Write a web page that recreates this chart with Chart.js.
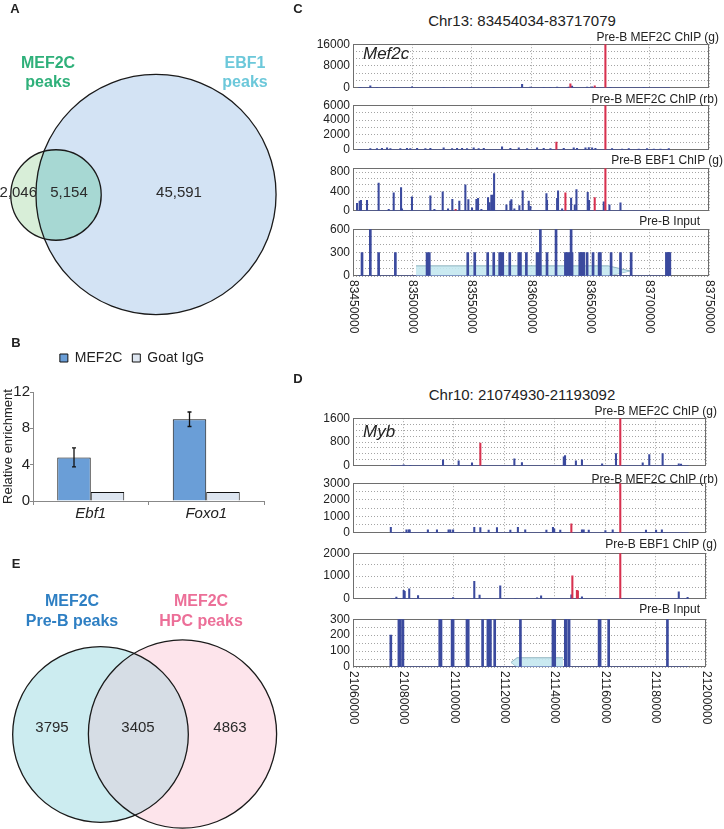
<!DOCTYPE html>
<html>
<head>
<meta charset="utf-8">
<script src="https://cdn.jsdelivr.net/npm/chart.js@4.4.1/dist/chart.umd.min.js"></script>
<style>
body { margin: 0; background: #fff; }
#page { position: relative; width: 724px; height: 829px; overflow: hidden; font-family: 'Liberation Sans', Arial, sans-serif; color: #222; }
canvas { position: absolute; }
.t { position: absolute; white-space: nowrap; line-height: 1; }
.c { transform: translate(-50%, -50%); text-align: center; }
.r { transform: translateY(-50%); }
.l { transform: translateY(-50%); }
.letter { font-weight: bold; font-size: 13px; }
.vt { font-weight: bold; font-size: 16px; }
.trk { font-size: 12px; }
.gene { font-size: 17px; font-style: italic; }
.chr { font-size: 15px; }
</style>
</head>
<body>
<div id="page">
  <canvas id="vennA" width="300" height="330" style="left:0;top:0"></canvas>
  <canvas id="barB" width="290" height="184" style="left:0;top:341px"></canvas>
  <canvas id="vennE" width="300" height="289" style="left:0;top:540px"></canvas>
  <canvas id="c1"></canvas><canvas id="c2"></canvas><canvas id="c3"></canvas><canvas id="c4"></canvas>
  <canvas id="d1"></canvas><canvas id="d2"></canvas><canvas id="d3"></canvas><canvas id="d4"></canvas>

  <div class="t c letter" style="left:15px;top:8px">A</div>
  <div class="t c letter" style="left:16px;top:342px">B</div>
  <div class="t c letter" style="left:16px;top:563px">E</div>
  <div class="t c letter" style="left:298px;top:8px">C</div>
  <div class="t c letter" style="left:298px;top:378px">D</div>

  <div class="t c vt" style="left:48px;top:72px;line-height:19px;color:#2fb07a">MEF2C<br>peaks</div>
  <div class="t c vt" style="left:245px;top:72px;line-height:19px;color:#6cc8da">EBF1<br>peaks</div>
  <div class="t c vt" style="left:72px;top:611px;line-height:20px;color:#2e7fc3">MEF2C<br>Pre-B peaks</div>
  <div class="t c vt" style="left:201px;top:611px;line-height:20px;color:#ec6f98">MEF2C<br>HPC peaks</div>

  <div class="t c chr" style="left:522px;top:20px">Chr13: 83454034-83717079</div>
  <div class="t c chr" style="left:522px;top:394px">Chr10: 21074930-21193092</div>

  <div class="t r trk" style="right:5px;top:37px">Pre-B MEF2C ChIP (g)</div>
  <div class="t r trk" style="right:6px;top:99px">Pre-B MEF2C ChIP (rb)</div>
  <div class="t r trk" style="right:1px;top:160px">Pre-B EBF1 ChIP (g)</div>
  <div class="t r trk" style="right:24px;top:221px">Pre-B Input</div>
  <div class="t r trk" style="right:7px;top:411px">Pre-B MEF2C ChIP (g)</div>
  <div class="t r trk" style="right:6px;top:479px">Pre-B MEF2C ChIP (rb)</div>
  <div class="t r trk" style="right:7px;top:544px">Pre-B EBF1 ChIP (g)</div>
  <div class="t r trk" style="right:24px;top:609px">Pre-B Input</div>

  <div class="t l gene" style="left:363px;top:53px">Mef2c</div>
  <div class="t l gene" style="left:363px;top:431px">Myb</div>
</div>
<script>
// ---- data ----
// A: MEF2C only, both, EBF1 only
const vennACounts = [2046, 5154, 45591];
// E: Pre-B only, both, HPC only
const vennECounts = [3795, 3405, 4863];

// B: ChIP-qPCR
const bGenes = ['Ebf1', 'Foxo1'];
const bMef2c = [4.8, 9.0];
const bMef2cErr = [1.05, 0.8];
const bIgG = [1.0, 1.0];

// C: Chr13 locus
const cLocus = [83454034, 83717079];
const cAxis = [83450000, 83750000];
const mef2cGene = [83503090, 83683400];
const cYTicks = [[0, 8000, 16000], [0, 2000, 4000, 6000], [0, 400, 800], [0, 300, 600]];

const c1Blue = [[83456200,200],[83464600,700],[83470200,150],[83484300,100],[83499700,400],[83526400,150],[83548900,200],[83568600,150],[83582600,200],[83592500,1300],[83599500,300],[83610700,200],[83616400,150],[83622000,300],[83631800,300],[83634600,600],[83647300,300],[83651500,400],[83666900,200],[83695000,100]];
const c1Red = [[83633200,1500],[83653700,700],[83662700,16000]];

const c2Blue = [[83464600,150],[83470200,150],[83474400,200],[83478700,250],[83481500,150],[83489900,150],[83495500,200],[83498300,150],[83504000,200],[83511000,150],[83515200,200],[83526400,250],[83533500,150],[83537700,200],[83541900,200],[83546100,150],[83551700,250],[83555900,150],[83560200,200],[83575600,400],[83582600,200],[83589700,250],[83596700,150],[83605100,250],[83610700,200],[83616400,150],[83627600,200],[83636000,250],[83638800,200],[83645900,250],[83648700,300],[83651500,250],[83654300,200],[83668300,150],[83676800,100],[83682400,150],[83690800,100],[83697800,150],[83703500,100],[83709100,100],[83716100,150]];
const c2Red = [[83621400,1050],[83662700,6000]];

const c3Blue = [[83453400,154],[83455600,200],[83456700,215],[83461800,215],[83471600,572],[83480100,30],[83484300,370],[83490500,480],[83491300,40],[83499700,290],[83515200,310],[83518600,30],[83525600,390],[83530100,40],[83533700,235],[83539600,200],[83544700,535],[83547200,230],[83550300,60],[83554000,235],[83555400,260],[83558200,30],[83563800,275],[83565200,170],[83566600,325],[83568000,325],[83568900,770],[83579300,125],[83582600,200],[83583500,230],[83586000,40],[83590200,110],[83593000,410],[83598100,200],[83599500,90],[83613000,355],[83613500,215],[83622000,260],[83622800,410],[83626200,40],[83633800,265],[83636900,125],[83638300,440],[83647800,380],[83648900,215],[83661300,185],[83666100,125],[83675400,165]];
const c3Red = [[83536500,30],[83629000,370],[83653700,275],[83662700,880]];

const c4Blue = [[83457600,300],[83464600,600],[83471600,300],[83485700,300],[83512400,300],[83514300,300],[83546700,300],[83552600,300],[83563500,300],[83568600,300],[83573600,300],[83574800,300],[83576200,300],[83582100,300],[83589700,300],[83591100,300],[83596100,300],[83605100,300],[83606500,300],[83607900,600],[83613500,300],[83621100,600],[83629000,300],[83630400,300],[83631800,300],[83633800,600],[83634600,300],[83641100,300],[83642200,300],[83643600,300],[83644500,300],[83647300,300],[83652300,300],[83657400,300],[83658500,300],[83667500,300],[83675400,300],[83684400,300],[83714100,300],[83715300,300],[83716100,300],[83717000,300]];

// D: Chr10 locus
const dLocus = [21074930, 21193092];
const dAxis = [21060000, 21200000];
const mybGene = [21122660, 21143290];
const dYTicks = [[0, 800, 1600], [0, 1000, 2000, 3000], [0, 1000, 2000], [0, 100, 200, 300]];

const d1Blue = [[21080100,30],[21082700,20],[21095700,200],[21101900,170],[21107200,100],[21124000,235],[21127000,110],[21143600,305],[21143800,200],[21144100,340],[21148400,170],[21150800,200],[21158800,70],[21164300,410],[21174900,100],[21177500,380],[21182800,410],[21189200,70],[21190100,60]];
const d1Red = [[21110500,765],[21166000,1600]];

const d2Blue = [[21075000,330],[21081200,180],[21082100,180],[21082500,180],[21089700,180],[21093300,180],[21097900,180],[21098600,180],[21099700,180],[21108100,330],[21110500,310],[21113800,160],[21117100,310],[21122400,160],[21125400,330],[21128300,180],[21136700,160],[21139300,330],[21139800,240],[21142200,160],[21150800,180],[21151500,180],[21153500,160],[21160100,130],[21163000,180],[21176200,160],[21180200,160],[21182500,180]];
const d2Red = [[21146600,545],[21166000,3000]];

const d3Blue = [[21077200,80],[21080100,370],[21080500,330],[21082300,440],[21085800,145],[21099700,50],[21108100,770],[21110200,160],[21118400,570],[21124400,25],[21133000,40],[21134600,130],[21146600,170],[21150800,90],[21189200,305],[21192700,65]];
const d3Red = [[21147000,1010],[21148800,370],[21149200,345],[21166000,2000]];

const d4Blue = [[21075000,200],[21078200,300],[21078800,300],[21079800,300],[21094400,300],[21094900,300],[21099300,300],[21099700,300],[21105200,300],[21105700,300],[21111400,300],[21113500,300],[21114100,300],[21114500,300],[21116200,300],[21126400,300],[21139300,300],[21140000,300],[21144200,300],[21144600,300],[21145700,300],[21157600,300],[21158000,300],[21161400,300],[21184700,300]];

// ---- setup ----
const FONT = "'Liberation Sans', Arial, sans-serif";
Chart.defaults.font.family = FONT;
Chart.defaults.color = '#222';
const navy = '#3b4a9e';
const red = '#d7314f';

function toXY(a) { return a.map(function (p) { return {x: p[0], y: p[1]}; }); }

// ---- Venn diagrams (A, E) ----
function makeVenn(id, counts, cfg) {
    var plugin = {
        id: 'venn',
        afterDraw: function (chart) {
            var xs = chart.scales.x, ys = chart.scales.y, c = chart.ctx;
            var tot = [counts[0] + counts[1], counts[1] + counts[2]];
            var circ = tot.map(function (n, i) {
                var x = xs.getPixelForValue(cfg.cx[i]);
                return {x: x, y: ys.getPixelForValue(cfg.cy[i]),
                    r: xs.getPixelForValue(cfg.cx[i] + cfg.k * Math.sqrt(n)) - x};
            });
            function path(ci) { c.beginPath(); c.arc(ci.x, ci.y, ci.r, 0, 2 * Math.PI); }
            c.save();
            path(circ[1]); c.fillStyle = cfg.colors[1]; c.fill();
            path(circ[0]); c.fillStyle = cfg.colors[0]; c.fill();
            c.save(); path(circ[0]); c.clip();
            path(circ[1]); c.fillStyle = cfg.inter; c.fill();
            c.restore();
            c.strokeStyle = '#1a1a1a'; c.lineWidth = 1.3;
            path(circ[0]); c.stroke();
            path(circ[1]); c.stroke();
            c.fillStyle = '#2a2a2a';
            c.font = '15px ' + FONT;
            c.textBaseline = 'middle';
            counts.forEach(function (n, i) {
                c.textAlign = cfg.align[i];
                c.fillText(cfg.fmt(n), xs.getPixelForValue(cfg.lx[i]), ys.getPixelForValue(cfg.ly));
            });
            c.restore();
        }
    };
    var cv = document.getElementById(id);
    return new Chart(cv, {
        type: 'scatter',
        data: {datasets: []},
        options: {
            responsive: false, animation: false, devicePixelRatio: 1,
            layout: {padding: 0},
            plugins: {legend: {display: false}, tooltip: {enabled: false}},
            scales: {
                x: {display: false, min: 0, max: cv.width},
                y: {display: false, min: 0, max: cv.height, reverse: true}
            }
        },
        plugins: [plugin]
    });
}

makeVenn('vennA', vennACounts, {
    cx: [56, 156], cy: [195, 194.5], k: 0.533,
    colors: ['#d8eed8', '#d3e3f4'], inter: '#a7d8d3',
    lx: [37, 69, 179], ly: 193, align: ['right', 'center', 'center'],
    fmt: function (n) { return n.toLocaleString('en-US'); }
});
makeVenn('vennE', vennECounts, {
    cx: [100.5, 182.5], cy: [194.5, 194], k: 1.035,
    colors: ['#ccecf0', '#fde4eb'], inter: '#d6dde5',
    lx: [52, 138, 230], ly: 188, align: ['center', 'center', 'center'],
    fmt: function (n) { return String(n); }
});

// ---- B: bar chart with error bars ----
var errorBars = {
    id: 'errorBars',
    afterDatasetsDraw: function (chart) {
        var meta = chart.getDatasetMeta(0), y = chart.scales.y, c = chart.ctx;
        c.save();
        c.strokeStyle = '#111'; c.lineWidth = 1.3;
        meta.data.forEach(function (bar, i) {
            var top = y.getPixelForValue(bMef2c[i] + bMef2cErr[i]);
            var bot = y.getPixelForValue(bMef2c[i] - bMef2cErr[i]);
            c.beginPath();
            c.moveTo(bar.x, top); c.lineTo(bar.x, bot);
            c.moveTo(bar.x - 2, top); c.lineTo(bar.x + 2, top);
            c.moveTo(bar.x - 2, bot); c.lineTo(bar.x + 2, bot);
            c.stroke();
        });
        c.restore();
    }
};

new Chart(document.getElementById('barB'), {
    type: 'bar',
    data: {
        labels: bGenes,
        datasets: [
            {label: 'MEF2C', data: bMef2c, backgroundColor: '#6a9ed7', borderColor: '#111', borderWidth: 1,
                categoryPercentage: 0.58, barPercentage: 1},
            {label: 'Goat IgG', data: bIgG, backgroundColor: '#dde5f0', borderColor: '#111', borderWidth: 1,
                categoryPercentage: 0.58, barPercentage: 1}
        ]
    },
    options: {
        responsive: false, animation: false, devicePixelRatio: 1,
        layout: {padding: {left: 0, right: 26, top: 0, bottom: 0}},
        plugins: {
            legend: {display: true, position: 'top',
                labels: {boxWidth: 8, boxHeight: 8, padding: 10, color: '#222', font: {size: 14}}},
            tooltip: {enabled: false}
        },
        scales: {
            x: {
                grid: {offset: true, drawOnChartArea: false, tickLength: 4, color: '#888'},
                border: {color: '#888'},
                ticks: {padding: 0, color: '#222', font: {size: 15, style: 'italic'}},
                afterFit: function (s) { s.height = 24; }
            },
            spacer: {
                type: 'category', position: 'top', display: true,
                grid: {display: false}, ticks: {display: false}, border: {display: false},
                afterFit: function (s) { s.height = 17; }
            },
            y: {
                min: 0, max: 12,
                ticks: {stepSize: 2, padding: 0, color: '#222', font: {size: 15}},
                grid: {drawOnChartArea: false, tickLength: 3, color: '#888'},
                border: {color: '#888'},
                title: {display: true, text: 'Relative enrichment', color: '#222', font: {size: 13}, padding: {top: 1, bottom: 0}},
                afterFit: function (s) { s.width = 33; }
            }
        }
    },
    plugins: [errorBars]
});

// ---- C, D: genome browser tracks ----
var frame = {
    id: 'frame',
    beforeDatasetsDraw: function (chart) {
        var a = chart.chartArea, c = chart.ctx;
        c.save();
        c.strokeStyle = '#6e6e6e'; c.lineWidth = 1;
        c.strokeRect(Math.round(a.left) + 0.5, Math.round(a.top) + 0.5,
            Math.round(a.right - a.left) - 1, Math.round(a.bottom - a.top) - 1);
        c.restore();
    }
};

var xLabels = {
    id: 'xLabels',
    afterDraw: function (chart) {
        var xs = chart.scales.x, c = chart.ctx, a = chart.chartArea;
        c.save();
        c.font = '12px ' + FONT;
        c.fillStyle = '#222';
        c.textAlign = 'left';
        c.textBaseline = 'middle';
        xs.ticks.forEach(function (tk) {
            c.save();
            c.translate(xs.getPixelForValue(tk.value), a.bottom + 4);
            c.rotate(Math.PI / 2);
            c.fillText(String(tk.value), 0, 0);
            c.restore();
        });
        c.restore();
    }
};

function makeTrack(id, t) {
    var cv = document.getElementById(id);
    var padBottom = t.xlabels ? 62 : 8;
    cv.width = 424;
    cv.height = t.bottom - t.top + 8 + padBottom;
    cv.style.left = '300px';
    cv.style.top = (t.top - 8) + 'px';

    var datasets = [
        {type: 'bar', data: toXY(t.blue), backgroundColor: navy, barThickness: t.thick, grouped: false, order: 1},
        {type: 'bar', data: toXY(t.red || []), backgroundColor: red, barThickness: t.thick, grouped: false, order: 0},
        {type: 'line', data: [{x: t.locus[0], y: 0}, {x: t.locus[1], y: 0}], borderColor: navy,
            borderWidth: 1, pointRadius: 0, order: 2}
    ];
    if (t.gene) {
        var g = t.gene, h = t.geneH, al = t.arrow, top, bot;
        if (t.strand === '+') {
            top = [{x: g[0], y: h}, {x: g[1] - al, y: h}, {x: g[1], y: h / 2}];
            bot = [{x: g[0], y: 0}, {x: g[1] - al, y: 0}, {x: g[1], y: h / 2}];
        } else {
            top = [{x: g[0], y: h / 2}, {x: g[0] + al, y: h}, {x: g[1], y: h}];
            bot = [{x: g[0], y: h / 2}, {x: g[0] + al, y: 0}, {x: g[1], y: 0}];
        }
        datasets.push({type: 'line', data: top, borderColor: '#8fb3bf', borderWidth: 1, pointRadius: 0,
            backgroundColor: 'rgba(196,232,240,0.9)', fill: '+1', order: 4});
        datasets.push({type: 'line', data: bot, borderColor: '#8fb3bf', borderWidth: 1, pointRadius: 0,
            fill: false, order: 4});
    }

    var major = t.yticks;
    return new Chart(cv, {
        type: 'bar',
        data: {datasets: datasets},
        options: {
            responsive: false, animation: false, devicePixelRatio: 1,
            layout: {padding: {left: 0, right: 724 - t.right, top: 8, bottom: padBottom}},
            plugins: {legend: {display: false}, tooltip: {enabled: false}},
            scales: {
                x: {
                    type: 'linear', min: t.axis[0], max: t.axis[1], offset: false,
                    ticks: {display: false, stepSize: t.xstep},
                    grid: {color: '#a4a4a4', drawTicks: false, offset: false},
                    border: {display: false, dash: [1, 2]},
                    afterFit: function (s) { s.height = 0; }
                },
                y: {
                    min: 0, max: t.max,
                    ticks: {autoSkip: false, padding: 3, color: '#222', font: {size: 12},
                        callback: function (v) {
                            var hit = major.filter(function (m) { return Math.abs(m - v) < 1e-6; });
                            return hit.length ? String(hit[0]) : '';
                        }},
                    // dotted grid at every minor step, labels only on the major ticks
                    afterBuildTicks: function (s) {
                        var ticks = [];
                        for (var i = 0; i * t.minor < t.max - 1e-6; i++) ticks.push({value: i * t.minor});
                        ticks.push({value: t.max});
                        s.ticks = ticks;
                    },
                    grid: {color: '#a4a4a4', drawTicks: false},
                    border: {display: false, dash: [1, 2]},
                    afterFit: function (s) { s.width = 53; }
                }
            }
        },
        plugins: t.xlabels ? [frame, xLabels] : [frame]
    });
}

var cBase = {axis: cAxis, locus: cLocus, xstep: 50000, right: 709, thick: 1.4};
var dBase = {axis: dAxis, locus: dLocus, xstep: 20000, right: 706, thick: 1.4};

makeTrack('c1', Object.assign({}, cBase, {top: 42, bottom: 90, max: 16000, yticks: cYTicks[0], minor: 8000 / 3, blue: c1Blue, red: c1Red}));
makeTrack('c2', Object.assign({}, cBase, {top: 103, bottom: 152, max: 6000, yticks: cYTicks[1], minor: 1000, blue: c2Blue, red: c2Red}));
makeTrack('c3', Object.assign({}, cBase, {top: 166, bottom: 213, max: 880, yticks: cYTicks[2], minor: 400 / 3, blue: c3Blue, red: c3Red}));
makeTrack('c4', Object.assign({}, cBase, {top: 227, bottom: 276, max: 600, yticks: cYTicks[3], minor: 100, blue: c4Blue,
    thick: 2, gene: mef2cGene, strand: '+', geneH: 130, arrow: 18250, xlabels: true}));

makeTrack('d1', Object.assign({}, dBase, {top: 416, bottom: 468, max: 1600, yticks: dYTicks[0], minor: 200, blue: d1Blue, red: d1Red}));
makeTrack('d2', Object.assign({}, dBase, {top: 481, bottom: 535, max: 3000, yticks: dYTicks[1], minor: 500, blue: d2Blue, red: d2Red}));
makeTrack('d3', Object.assign({}, dBase, {top: 551, bottom: 601, max: 2000, yticks: dYTicks[2], minor: 500, blue: d3Blue, red: d3Red}));
makeTrack('d4', Object.assign({}, dBase, {top: 617, bottom: 667, max: 300, yticks: dYTicks[3], minor: 50, blue: d4Blue,
    thick: 2, gene: mybGene, strand: '-', geneH: 58, arrow: 2380, xlabels: true}));
</script>
</body>
</html>
